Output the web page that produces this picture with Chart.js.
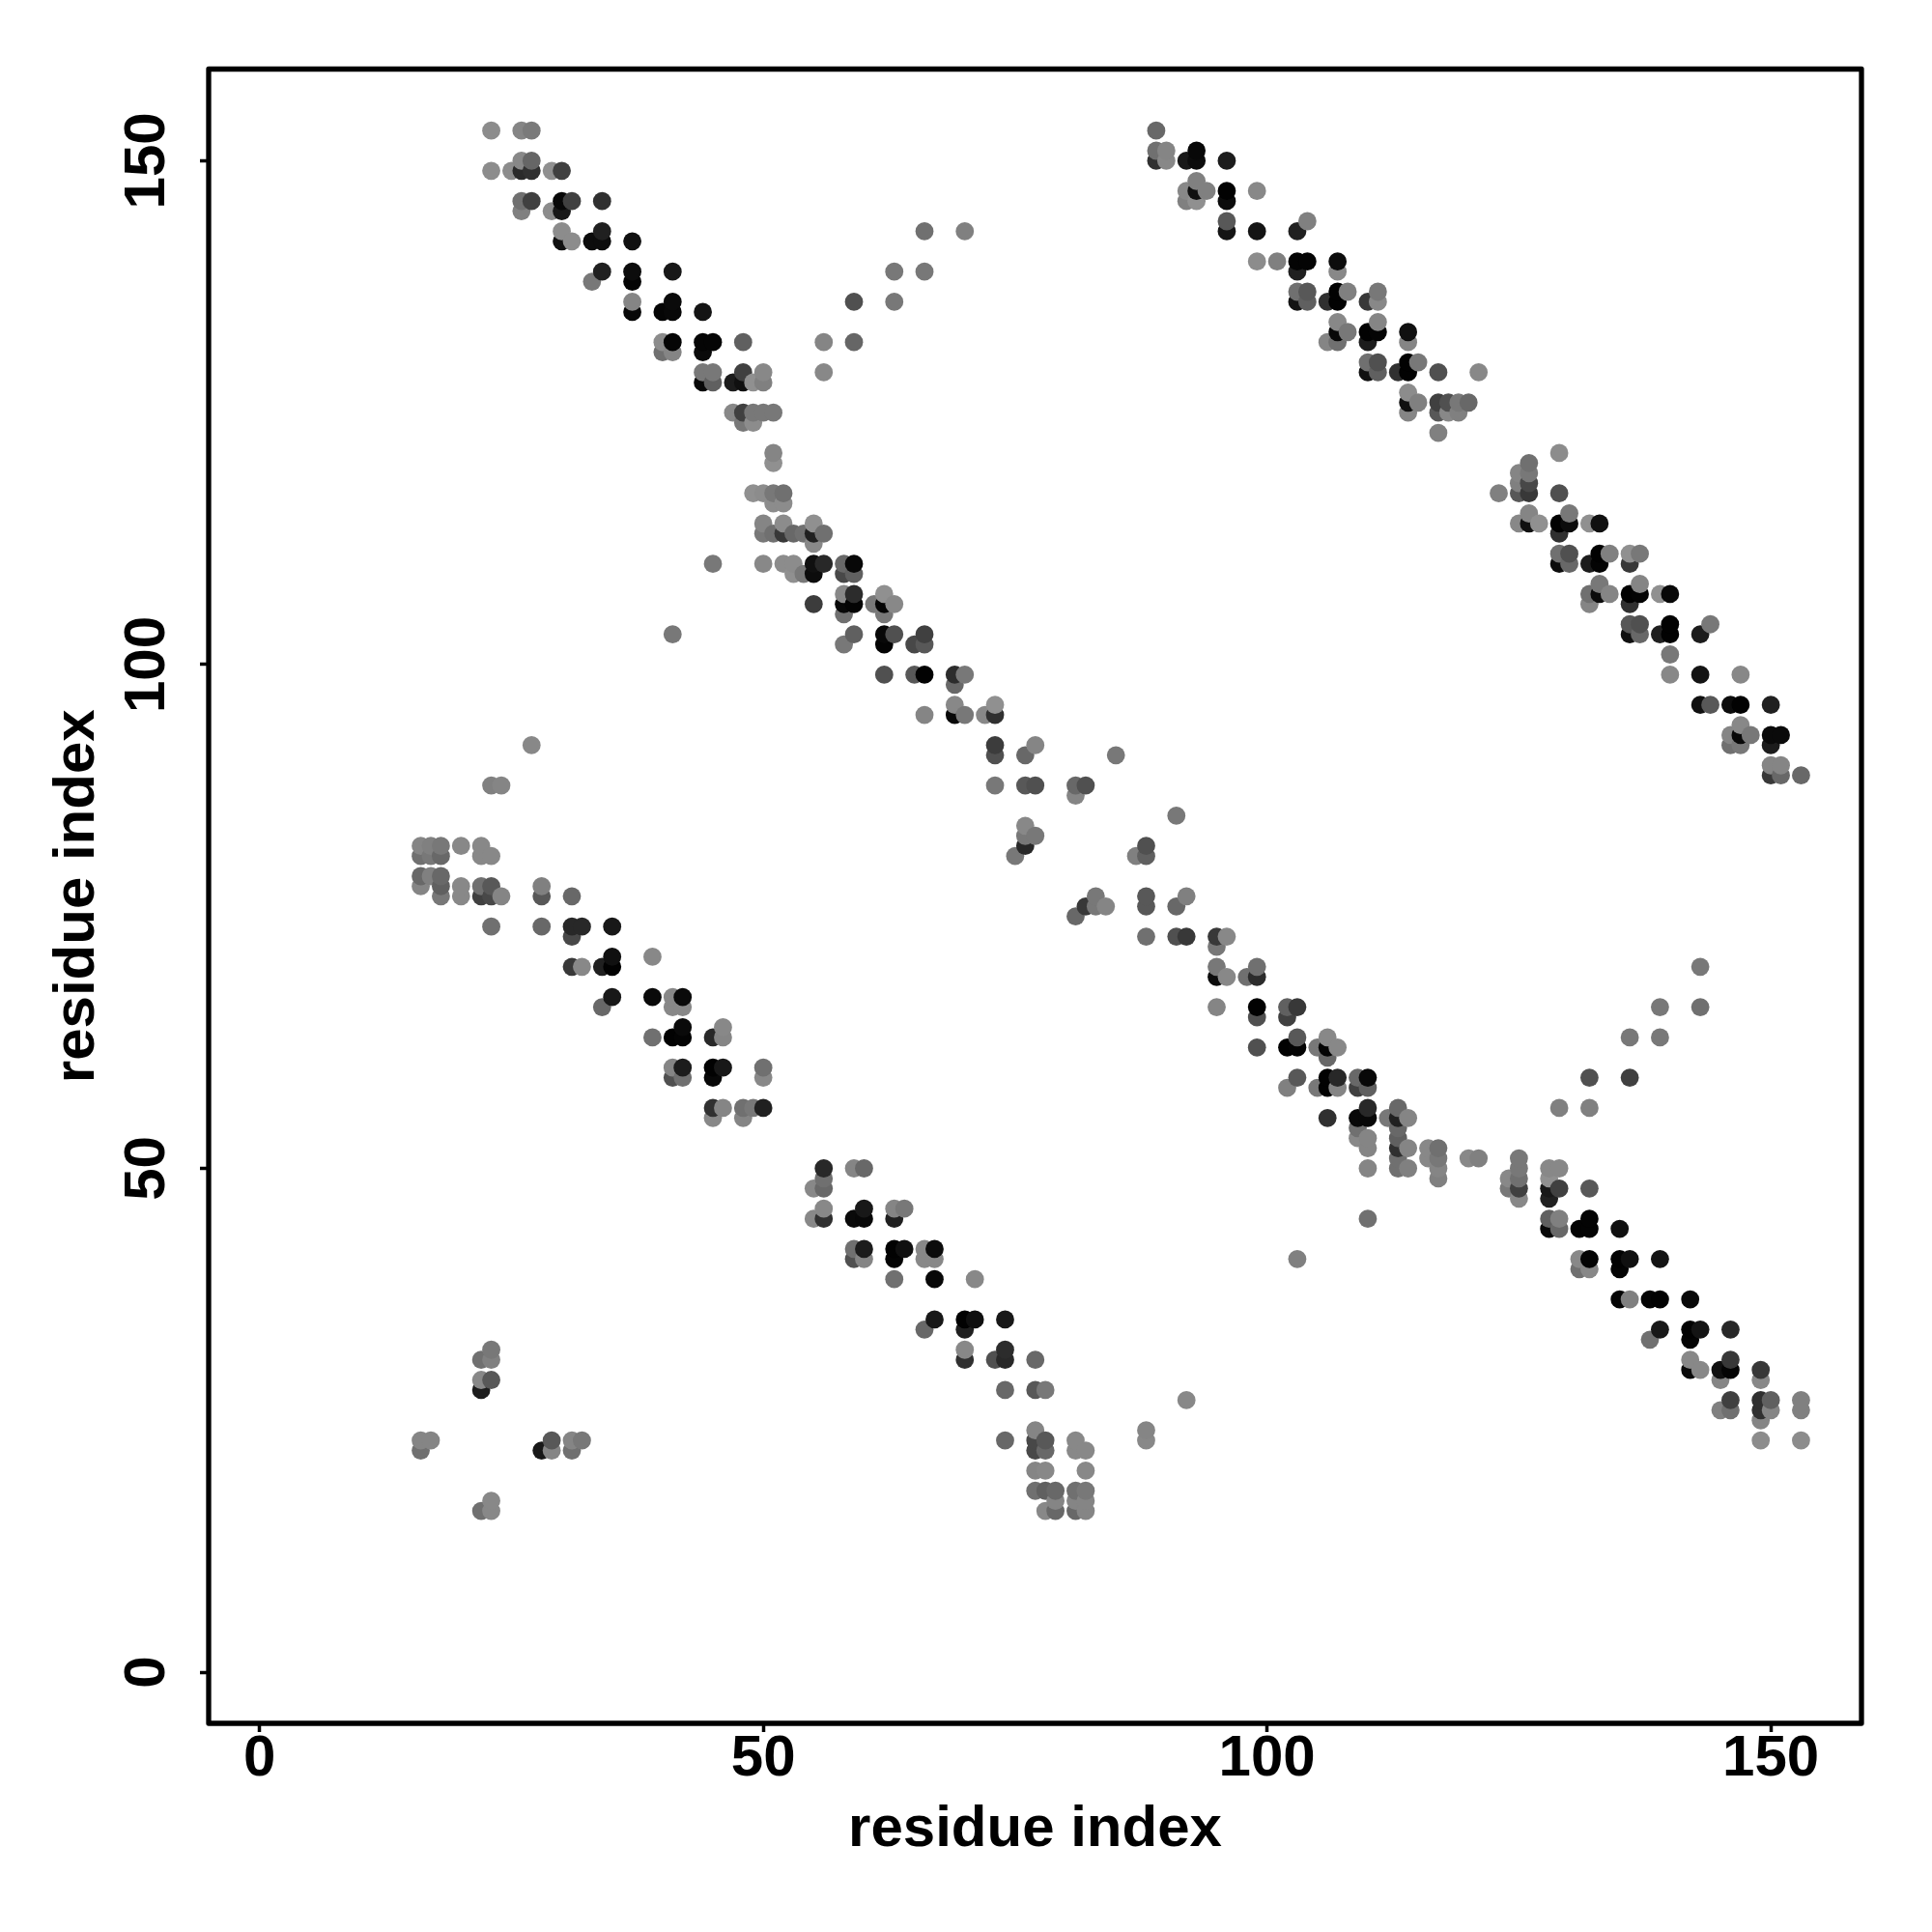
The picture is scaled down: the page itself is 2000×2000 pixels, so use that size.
<!DOCTYPE html>
<html><head><meta charset="utf-8">
<style>html,body{margin:0;padding:0;background:#fff}canvas{display:block}</style>
<script src="https://cdn.jsdelivr.net/npm/chart.js@4"></script>
</head><body><canvas id="c" width="2000" height="2000"></canvas>
<script>
const tickValues = [0, 50, 100, 150];
const axisTitle = "residue index";
// each entry: [residue i, residue j, grey level of the mark]
const bandUpperLeft = [
[23,153,0x8c],[26,153,0x85],[27,153,0x7a],[23,149,0x8c],[25,149,0x8c],[26,150,0x88],[27,150,0x66],[26,149,0x2a],[27,149,0x30],[29,149,0x90],[30,149,0x40],
[26,146,0x70],[27,146,0x40],[26,145,0x80],[29,145,0x8c],[30,146,0x08],[31,146,0x40],[30,145,0x18],[34,146,0x30],[30,143,0x8c],[31,142,0x8c],[30,142,0x10],
[33,142,0x0c],[34,143,0x20],[34,142,0x0c],[37,142,0x10],[34,139,0x20],[33,138,0x78],[37,139,0x0c],[37,138,0x04],[41,139,0x18],[37,136,0x85],[37,135,0x08],
[41,136,0x0a],[40,135,0x05],[41,135,0x08],[44,135,0x14],[40,132,0x8c],[41,132,0x05],[40,131,0x70],[41,131,0x85],[44,132,0x05],[45,132,0x05],[44,131,0x0a],
[48,132,0x60],[44,129,0x78],[45,129,0x78],[44,128,0x08],[45,128,0x60],[47,128,0x1c],[48,129,0x40],[48,128,0x10],[50,129,0x88],[49,128,0x90],[50,128,0x80],
[47,125,0x88],[48,125,0x40],[49,125,0x78],[50,125,0x78],[51,125,0x78],[48,124,0x78],[49,124,0x8c],[51,121,0x85],[51,120,0x90]
];
const armUpper = [
[56,132,0x85],[59,132,0x66],[59,136,0x50],[56,129,0x88],[66,143,0x70],[70,143,0x80],[63,139,0x78],[66,139,0x78],[63,136,0x78]
];
const bandMiddle = [
[49,117,0x90],[50,117,0x8c],[51,117,0x78],[52,117,0x70],[51,116,0x8c],[52,116,0x8c],[50,114,0x85],[52,114,0x8c],[55,114,0x90],[50,113,0x78],[51,113,0x70],
[52,113,0x38],[53,113,0x68],[54,113,0x70],[55,113,0x20],[56,113,0x70],[55,112,0x88],[45,110,0x78],[50,110,0x88],[52,110,0x8c],[53,110,0x8c],[53,109,0x90],
[54,109,0x78],[55,110,0x10],[56,110,0x28],[55,109,0x0c],[58,110,0x68],[59,110,0x08],[58,109,0x48],[59,109,0x60],[58,107,0x88],[59,107,0x2c],[55,106,0x3c],
[58,106,0x08],[59,106,0x04],[58,105,0x70],[61,106,0x78],[62,107,0x90],[62,106,0x05],[63,106,0x88],[62,105,0x78],[59,103,0x60],[58,102,0x78],[62,103,0x08],
[63,103,0x50],[62,102,0x04],[65,102,0x48],[66,103,0x40],[66,102,0x58],[62,99,0x50],[65,99,0x58],[66,99,0x02],[69,99,0x2c],[70,99,0x78],[69,98,0x68],
[69,96,0x88],[66,95,0x85],[69,95,0x08],[70,95,0x78],[72,95,0x88],[73,96,0x90],[73,95,0x30],[73,92,0x3c],[73,91,0x50],[76,91,0x68],[77,92,0x85],[85,91,0x78],
[73,88,0x78],[76,88,0x58],[77,88,0x50],[81,88,0x68],[82,88,0x50],[81,87,0x85],[76,84,0x88],[76,83,0x78],[77,83,0x78],[76,82,0x28],[75,81,0x78],[41,103,0x78]
];
const bandUpperRight = [
[89,153,0x68],[89,151,0x70],[90,151,0x85],[89,150,0x30],[90,150,0x88],[92,150,0x18],[93,151,0x08],[93,150,0x0c],[96,150,0x1c],[92,147,0x88],[93,148,0x80],
[94,147,0x80],[93,147,0x10],[92,146,0x80],[93,146,0x90],[96,147,0x02],[96,146,0x0c],[99,147,0x88],[96,144,0x58],[96,143,0x14],[99,143,0x14],[103,143,0x20],
[104,144,0x80],[99,140,0x8c],[101,140,0x80],[103,140,0x04],[104,140,0x04],[103,139,0x20],[107,140,0x0c],[107,139,0x88],[103,137,0x70],[104,137,0x58],
[103,136,0x14],[104,136,0x60],[106,136,0x30],[107,137,0x02],[108,137,0x80],[107,136,0x02],[110,136,0x38],[111,137,0x78],[111,136,0x88],[107,134,0x88],
[108,133,0x78],[107,133,0x08],[106,132,0x85],[107,132,0x70],[110,133,0x02],[111,134,0x85],[111,133,0x04],[110,132,0x1c],[114,133,0x10],[114,132,0x85],
[110,130,0x70],[111,130,0x50],[110,129,0x10],[111,129,0x60],[113,129,0x30],[114,130,0x02],[114,129,0x02],[115,130,0x78],[117,129,0x50],[121,129,0x88],
[114,127,0x8c],[115,126,0x80],[114,126,0x10],[114,125,0x85],[117,126,0x40],[118,126,0x50],[119,126,0x78],[120,126,0x68],[117,125,0x58],[118,125,0x88],
[119,125,0x80],[117,123,0x80]
];
const bandFarRight = [
[129,121,0x8c],[126,120,0x70],[125,119,0x85],[126,119,0x78],[125,118,0x80],[126,118,0x48],[123,117,0x80],[125,117,0x58],[126,117,0x38],[129,117,0x50],
[126,115,0x85],[125,114,0x88],[126,114,0x10],[127,114,0x90],[129,114,0x02],[130,115,0x78],[130,114,0x0c],[129,113,0x30],[132,114,0x90],[133,114,0x10],
[129,111,0x70],[130,111,0x50],[129,110,0x0c],[130,110,0x68],[132,110,0x1c],[133,111,0x02],[134,111,0x80],[133,110,0x04],[136,111,0x90],[137,111,0x78],
[136,110,0x38],[133,108,0x78],[134,107,0x85],[132,107,0x70],[133,107,0x0c],[132,106,0x85],[136,107,0x02],[137,108,0x85],[137,107,0x04],[136,106,0x30],
[139,107,0x90],[140,107,0x08],[136,104,0x58],[137,104,0x50],[136,103,0x10],[137,103,0x68],[139,103,0x20],[140,104,0x02],[140,103,0x02],[143,103,0x1c],
[144,104,0x78],[140,101,0x78],[140,99,0x88],[143,99,0x14],[147,99,0x88],[143,96,0x10],[144,96,0x58],[146,96,0x0c],[147,96,0x02],[150,96,0x20],[147,94,0x88],
[146,93,0x85],[148,93,0x78],[147,93,0x08],[146,92,0x70],[147,92,0x78],[150,93,0x0a],[151,93,0x0a],[150,92,0x1c],[150,90,0x85],[151,90,0x85],[150,89,0x38],
[151,89,0x68],[153,89,0x68]
];
const bandLowerLeft = [
[27,92,0x88],[23,88,0x80],[24,88,0x85],[16,82,0x85],[17,82,0x80],[18,82,0x78],[16,81,0x70],[17,81,0x78],[18,81,0x68],[20,82,0x88],[22,82,0x88],[22,81,0x88],
[23,81,0x88],[16,79,0x68],[17,79,0x80],[18,79,0x68],[16,78,0x85],[18,78,0x60],[18,77,0x78],[20,78,0x88],[20,77,0x88],[22,78,0x70],[23,78,0x58],[22,77,0x40],
[23,77,0x48],[24,77,0x85],[28,78,0x80],[28,77,0x58],[31,77,0x68],[23,74,0x70],[28,74,0x68],[31,74,0x28],[32,74,0x28],[31,73,0x48],[35,74,0x18],[35,71,0x10],
[39,71,0x88],[31,70,0x38],[32,70,0x88],[34,70,0x20],[35,70,0x02],[35,67,0x18],[34,66,0x68],[39,67,0x0a],[41,67,0x88],[42,67,0x0a],[41,66,0x88],[42,66,0x88],
[39,63,0x70],[41,63,0x02],[42,64,0x0a],[42,63,0x04],[45,63,0x28],[46,64,0x88],[46,63,0x85],[41,60,0x85],[42,60,0x1c],[41,59,0x50],[42,59,0x70],[45,60,0x02],
[46,60,0x18],[45,59,0x08],[50,60,0x70],[50,59,0x88],[45,56,0x30],[46,56,0x85],[45,55,0x88],[48,56,0x70],[49,56,0x78],[50,56,0x20],[48,55,0x85]
];
const bandLowerMiddle = [
[56,50,0x28],[59,50,0x85],[60,50,0x68],[56,49,0x70],[55,48,0x88],[56,48,0x68],[56,46,0x88],[55,45,0x88],[56,45,0x30],[59,45,0x0a],[60,46,0x18],[60,45,0x08],
[63,46,0x85],[64,46,0x78],[63,45,0x20],[59,42,0x70],[60,42,0x1c],[59,41,0x50],[60,41,0x85],[63,42,0x02],[64,42,0x10],[63,41,0x04],[66,42,0x88],[67,42,0x0c],
[66,41,0x88],[67,41,0x88],[63,39,0x70],[67,39,0x08],[71,39,0x88],[67,35,0x18],[66,34,0x68],[70,35,0x02],[71,35,0x10],[70,34,0x20],[74,35,0x18],[70,32,0x88],
[70,31,0x30],[73,31,0x50],[74,32,0x2c],[74,31,0x28],[77,31,0x68],[74,28,0x68],[77,28,0x58],[78,28,0x78],[74,23,0x68],[77,24,0x85],[77,23,0x48],[78,23,0x58],
[77,22,0x48],[78,22,0x68],[81,23,0x88],[81,22,0x88],[82,22,0x88],[77,20,0x85],[78,20,0x88],[82,20,0x88],[77,18,0x70],[78,18,0x60],[79,18,0x68],[81,18,0x70],
[82,18,0x78],[79,17,0x85],[81,17,0x85],[82,17,0x85],[78,16,0x88],[79,16,0x68],[81,16,0x68],[82,16,0x85],[88,24,0x85],[88,23,0x88],[92,27,0x88]
];
const bandCentre = [
[91,85,0x78],[88,82,0x50],[87,81,0x80],[88,81,0x60],[83,77,0x78],[82,76,0x38],[83,76,0x78],[84,76,0x85],[81,75,0x68],[88,77,0x58],[88,76,0x58],[91,76,0x68],
[92,77,0x80],[88,73,0x70],[91,73,0x50],[92,73,0x38],[95,73,0x38],[96,73,0x88],[95,72,0x78],[95,70,0x78],[96,69,0x88],[95,69,0x0c],[98,69,0x70],[99,70,0x70],
[99,69,0x2c],[95,66,0x85],[99,66,0x02],[99,65,0x50],[102,66,0x60],[103,66,0x38],[102,65,0x40],[99,62,0x50],[102,62,0x02],[103,63,0x58],[103,62,0x04],
[105,62,0x78],[106,63,0x88],[107,62,0x88],[106,62,0x04],[106,61,0x68],[102,58,0x80],[103,59,0x58],[105,58,0x78],[106,59,0x02],[107,59,0x28],[106,58,0x02],
[107,58,0x85],[109,59,0x68],[110,59,0x08],[109,58,0x40],[110,58,0x60],[106,55,0x30],[109,55,0x08],[110,56,0x28],[110,55,0x08],[112,55,0x78],[113,56,0x68],
[114,55,0x85],[113,55,0x20],[109,54,0x70],[109,53,0x88],[110,53,0x85],[110,52,0x85],[110,50,0x85],[110,45,0x70],[113,54,0x68],[113,53,0x60],[113,52,0x30],
[114,52,0x85],[113,51,0x70],[113,50,0x70],[114,50,0x80],[116,52,0x88],[117,52,0x70],[116,51,0x88],[117,51,0x78],[117,50,0x85],[117,49,0x80],[120,51,0x88],
[121,51,0x80],[103,41,0x80]
];
const bandLowerRight = [
[125,51,0x78],[125,50,0x78],[124,49,0x88],[125,49,0x70],[124,48,0x78],[125,48,0x40],[125,47,0x88],[128,50,0x88],[129,50,0x88],[128,49,0x90],[128,48,0x18],
[129,48,0x40],[128,47,0x20],[132,48,0x58],[128,45,0x60],[129,45,0x80],[128,44,0x08],[129,44,0x68],[131,44,0x04],[132,45,0x04],[132,44,0x04],[135,44,0x10],
[131,41,0x88],[132,41,0x04],[131,40,0x70],[132,40,0x88],[135,41,0x02],[136,41,0x10],[135,40,0x04],[139,41,0x14],[135,37,0x04],[136,37,0x80],[138,37,0x04],
[139,37,0x02],[142,37,0x08],[139,34,0x18],[138,33,0x70],[142,34,0x02],[143,34,0x14],[142,33,0x04],[146,34,0x28],[142,31,0x88],[143,30,0x88],[142,30,0x0a],
[145,30,0x10],[146,31,0x38],[146,30,0x04],[145,29,0x85],[149,30,0x38],[149,29,0x88],[146,27,0x40],[145,26,0x80],[146,26,0x70],[149,27,0x30],[150,27,0x60],
[149,26,0x30],[150,26,0x85],[149,25,0x85],[149,23,0x8c],[153,27,0x80],[153,26,0x80],[153,23,0x8c]
];
const armLower = [
[129,56,0x80],[132,59,0x50],[132,56,0x80],[136,59,0x40],[136,63,0x78],[139,63,0x78],[139,66,0x78],[143,66,0x70],[143,70,0x78]
];
const clusterBottomLeft = [
[23,32,0x78],[22,31,0x70],[23,31,0x80],[22,29,0x88],[23,29,0x58],[22,28,0x1c],[16,23,0x85],[17,23,0x85],[16,22,0x70],[28,22,0x18],[29,23,0x58],[29,22,0x85],
[31,23,0x85],[32,23,0x78],[31,22,0x70],[23,17,0x88],[22,16,0x70],[23,16,0x88]
];

const allPairs = [].concat(bandUpperLeft, armUpper, bandMiddle, bandUpperRight, bandFarRight, bandLowerLeft,
  bandLowerMiddle, bandCentre, bandLowerRight, armLower, clusterBottomLeft)
  .sort((a, b) => a[0] - b[0] || a[1] - b[1]);

const tickFont = {family: '"Liberation Sans", Arial, sans-serif', size: 60, weight: 'bold'};
const titleFont = {family: '"Liberation Sans", Arial, sans-serif', size: 60, weight: 'bold'};

const framePlugin = {
  id: 'frame',
  afterDraw(chart) {
    const a = chart.chartArea, g = chart.ctx;
    g.save();
    g.strokeStyle = '#000';
    g.lineWidth = 5.3;
    g.lineJoin = 'round';
    g.strokeRect(a.left, a.top, a.right - a.left, a.bottom - a.top);
    g.restore();
  }
};
const setTicks = s => { s.ticks = tickValues.map(v => ({value: v})); };

new Chart(document.getElementById('c'), {
  type: 'scatter',
  data: {datasets: [{
    data: allPairs.map(p => ({x: p[0], y: p[1]})),
    backgroundColor: allPairs.map(p => `rgb(${p[2]},${p[2]},${p[2]})`),
    borderWidth: 0,
    pointRadius: 9.4,
    pointHoverRadius: 9.4
  }]},
  options: {
    responsive: false,
    animation: false,
    devicePixelRatio: 1,
    layout: {padding: {top: 71.5, right: 73, left: 0, bottom: 0}},
    plugins: {legend: {display: false}, tooltip: {enabled: false}},
    scales: {
      x: {
        type: 'linear', min: -5.05, max: 159,
        afterBuildTicks: setTicks,
        afterFit: s => { s.height = 216; },
        grid: {display: true, drawOnChartArea: false, drawTicks: true, tickLength: 9, tickWidth: 3.5, tickColor: '#000'},
        border: {display: false},
        ticks: {font: tickFont, color: '#000', padding: -7.5, maxRotation: 0, minRotation: 0, autoSkip: false, callback: v => String(v)},
        title: {display: true, text: axisTitle, font: titleFont, color: '#000', padding: {top: 0, bottom: 70}}
      },
      y: {
        type: 'linear', min: -5.08, max: 159.1,
        afterBuildTicks: setTicks,
        afterFit: s => { s.width = 216; },
        grid: {display: true, drawOnChartArea: false, drawTicks: true, tickLength: 9, tickWidth: 3.5, tickColor: '#000'},
        border: {display: false},
        ticks: {font: tickFont, color: '#000', padding: 3, minRotation: 90, maxRotation: 90, crossAlign: 'center', autoSkip: false, callback: v => String(v)},
        title: {display: true, text: axisTitle, font: titleFont, color: '#000', padding: {top: 44, bottom: 0}}
      }
    }
  },
  plugins: [framePlugin]
});
</script></body></html>
